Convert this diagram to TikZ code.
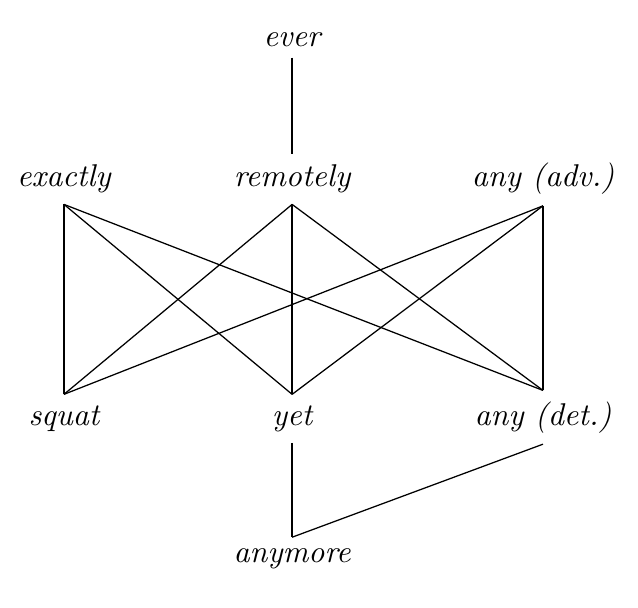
\documentclass[tikz,border=0pt]{standalone}
\usepackage{tikz}

\begin{document}
\begin{tikzpicture}[word/.style={font=\itshape, anchor=base}]
			\def\xl{0.714}
			\def\xm{3.26}
			\def\xr{6.06}

			\useasboundingbox (0,0) rectangle (7.12,6.785);

			% Top
			\node[word] (ever) at (\xm, 6.27) {ever};
			% Upper row
			\node[word] (exactly)  at (\xl, 4.70) {exactly};
			\node[word] (remotely) at (\xm, 4.70) {remotely};
			\node[word] (anyadv)   at (\xr, 4.70) {any (adv.)};
			% Lower row
			\node[word] (squat)  at (\xl, 2.04) {squat};
			\node[word] (yet)    at (\xm, 2.04) {yet};
			\node[word] (anydet) at (\xr, 2.04) {any (det.)};
			% Bottom
			\node[word] (anymore) at (\xm, 0.51) {anymore};

			\draw (ever.south) -- (remotely.north);
			\foreach \u in {exactly, remotely, anyadv}
				\foreach \l in {squat, yet, anydet}
					\draw (\u.south) -- (\l.north);
			\draw (yet.south) -- (anymore.north);
			\draw (anydet.south) -- (anymore.north);

		\end{tikzpicture}
\end{document}
